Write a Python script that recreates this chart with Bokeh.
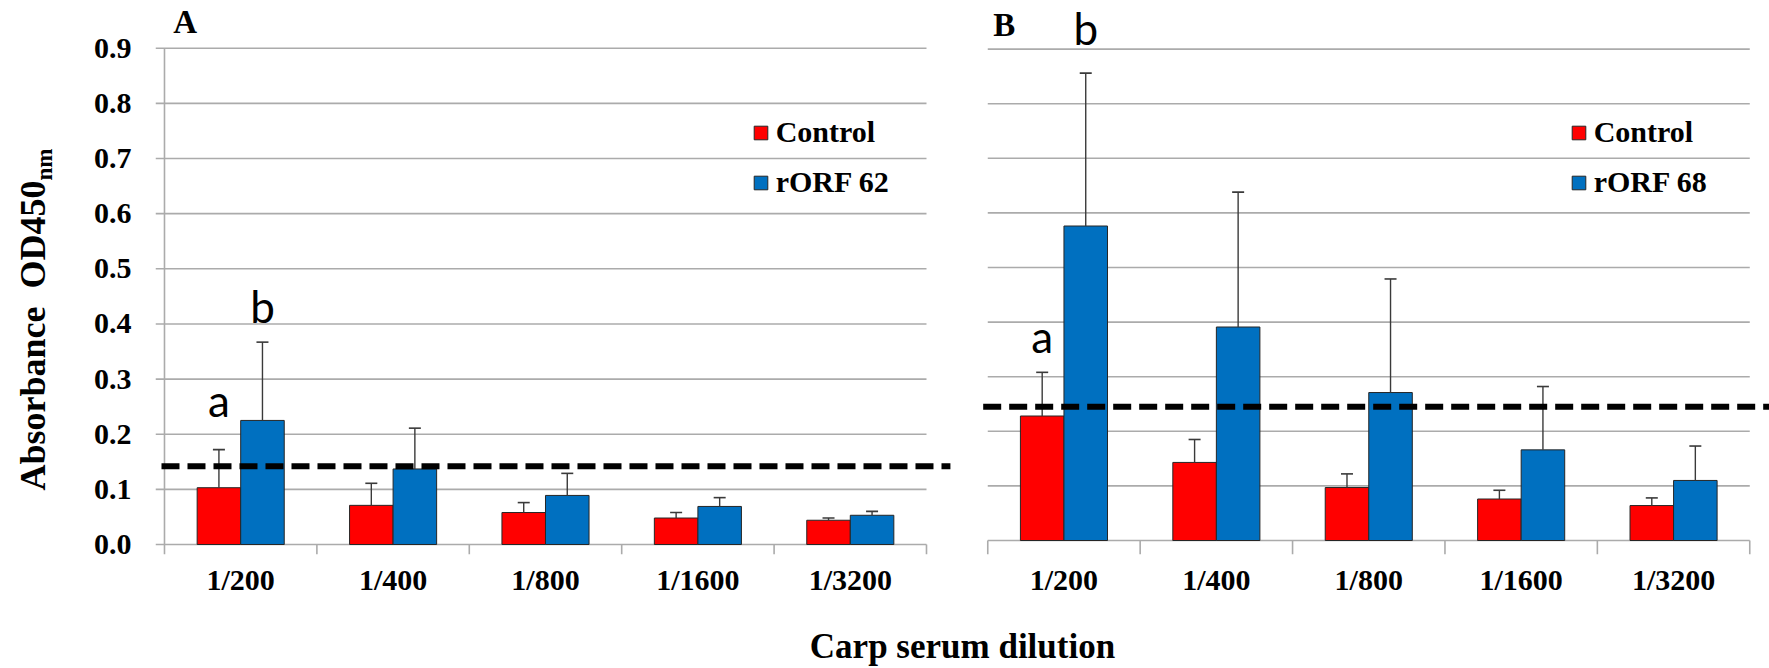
from math import pi

from bokeh.core.properties import value
from bokeh.embed import file_html
from bokeh.layouts import row
from bokeh.models import (ColumnDataSource, FixedTicker, Legend, LegendItem,
                          NumeralTickFormatter, Range1d)
from bokeh.plotting import figure
from bokeh.resources import INLINE

# ---------------------------------------------------------------- data
dilutions = ["1/200", "1/400", "1/800", "1/1600", "1/3200"]
y_ticks = [0.0, 0.1, 0.2, 0.3, 0.4, 0.5, 0.6, 0.7, 0.8, 0.9]

# Panel A: carp immunised with rORF 62
control_a = [0.103, 0.071, 0.058, 0.048, 0.044]
control_a_sd = [0.069, 0.040, 0.018, 0.010, 0.004]
rorf62 = [0.225, 0.137, 0.089, 0.069, 0.053]
rorf62_sd = [0.142, 0.074, 0.040, 0.016, 0.007]
cutoff_a = 0.142

# Panel B: carp immunised with rORF 68
control_b = [0.228, 0.143, 0.097, 0.076, 0.064]
control_b_sd = [0.080, 0.042, 0.025, 0.016, 0.014]
rorf68 = [0.576, 0.391, 0.271, 0.166, 0.110]
rorf68_sd = [0.280, 0.247, 0.208, 0.116, 0.063]
cutoff_b = 0.245

# significance letters at the 1/200 dilution: (letter, series, baseline y)
letters_a = [("a", 0, 0.232), ("b", 1, 0.401)]
letters_b = [("a", 0, 0.3425), ("b", 1, 0.9066)]

# ---------------------------------------------------------------- style
RED = "#FF0000"
BLUE = "#0070C0"
EDGE = "#262626"
GRID = "#ABABAB"
ERR = "#3A3A3A"
SERIF = "Liberation Serif"

H = 668
TOP, BOTTOM = 5, 114     # borders above / below the plotting frame
N = len(dilutions)
BAR_W = 1 / 3.5          # two bars plus a 150 % gap per category
B_SHIFT = 5.402          # panel B starts here on the shared x scale
X_LEFT = -0.059
X_RIGHT = 10.5315
YA = (-0.01814, 0.97752)
YB = (-0.02564, 0.97985)
TITLE_W = 64

# ---------------------------------------------------------------- value axis title strip
# y measured in pixels from the bottom of the page
t = figure(width=TITLE_W, height=H, output_backend="svg", toolbar_location=None,
           x_range=Range1d(0, TITLE_W), y_range=Range1d(BOTTOM, H - TOP),
           x_axis_location=None, y_axis_location=None,
           min_border_left=0, min_border_right=0, min_border_top=TOP,
           min_border_bottom=BOTTOM)
t.outline_line_color = None
t.xgrid.visible = False
t.ygrid.visible = False
t.text(x=[45], y=[H - 490], text=["Absorbance\u00a0\u00a0OD450"], angle=pi / 2,
       text_font=value(SERIF), text_font_style="bold", text_font_size="36px",
       text_align="left", text_baseline="alphabetic", text_color="black", x_offset=-13)
t.text(x=[52], y=[H - 180], text=["nm"], angle=pi / 2,
       text_font=value(SERIF), text_font_style="bold", text_font_size="23px",
       text_align="left", text_baseline="alphabetic", text_color="black", x_offset=-8)

# ---------------------------------------------------------------- main chart
p = figure(width=1769 - TITLE_W, height=H, output_backend="svg", toolbar_location=None,
           x_range=Range1d(X_LEFT, X_RIGHT), y_range=Range1d(*YA),
           min_border_left=155 - TITLE_W, min_border_right=0, min_border_top=TOP,
           min_border_bottom=BOTTOM)
p.extra_y_ranges = {"b": Range1d(*YB)}
p.outline_line_color = None
p.background_fill_color = "white"
p.xgrid.visible = False
p.ygrid.visible = False

yax = p.yaxis[0]
yax.ticker = FixedTicker(ticks=y_ticks)
yax.formatter = NumeralTickFormatter(format="0.0")
yax.axis_line_color = None
yax.major_tick_line_color = None
yax.minor_tick_line_color = None
yax.major_label_standoff = 18
yax.major_label_text_font = SERIF
yax.major_label_text_font_style = "bold"
yax.major_label_text_font_size = "30px"
yax.major_label_text_color = "black"

centers_a = [i + 0.5 for i in range(N)]
centers_b = [B_SHIFT + i + 0.5 for i in range(N)]
xax = p.xaxis[0]
xax.ticker = FixedTicker(ticks=centers_a + centers_b)
xax.major_label_overrides = {c: d for c, d in zip(centers_a + centers_b, dilutions * 2)}
xax.axis_line_color = None
xax.major_tick_line_color = None
xax.minor_tick_line_color = None
xax.major_label_standoff = 2
xax.major_label_text_font = SERIF
xax.major_label_text_font_style = "bold"
xax.major_label_text_font_size = "30px"
xax.major_label_text_color = "black"
xax.axis_label = "Carp serum dilution"
xax.axis_label_standoff = 28
xax.axis_label_text_font = SERIF
xax.axis_label_text_font_style = "bold"
xax.axis_label_text_font_size = "35px"
xax.axis_label_text_color = "black"

# gridlines, value axis line and category separators
grid_a = ColumnDataSource(dict(x0=[X_LEFT] * len(y_ticks), x1=[float(N)] * len(y_ticks), y=y_ticks))
p.segment(x0="x0", y0="y", x1="x1", y1="y", source=grid_a, line_color=GRID, line_width=1.6)
grid_b = ColumnDataSource(dict(x0=[B_SHIFT] * len(y_ticks), x1=[B_SHIFT + N] * len(y_ticks), y=y_ticks))
p.segment(x0="x0", y0="y", x1="x1", y1="y", source=grid_b, line_color=GRID, line_width=1.6,
          y_range_name="b")
p.segment(x0=[0], y0=[YA[0]], x1=[0], y1=[y_ticks[-1]], line_color=GRID, line_width=1.6)
p.segment(x0=list(range(1, N + 1)), y0=[0] * N, x1=list(range(1, N + 1)), y1=[YA[0]] * N,
          line_color=GRID, line_width=1.6)
sep_b = [B_SHIFT + k for k in range(N + 1)]
p.segment(x0=sep_b, y0=[0] * (N + 1), x1=sep_b, y1=[YB[0]] * (N + 1),
          line_color=GRID, line_width=1.6, y_range_name="b")


def panel(centers, ctrl, ctrl_sd, trt, trt_sd, range_name):
    kw = {} if range_name is None else {"y_range_name": range_name}
    xs_c = [c - BAR_W / 2 for c in centers]
    xs_t = [c + BAR_W / 2 for c in centers]
    rc = p.vbar(x=xs_c, top=ctrl, bottom=0, width=BAR_W, fill_color=RED,
                line_color=EDGE, line_width=1, **kw)
    rt = p.vbar(x=xs_t, top=trt, bottom=0, width=BAR_W, fill_color=BLUE,
                line_color=EDGE, line_width=1, **kw)
    for xs, vals, sds in ((xs_c, ctrl, ctrl_sd), (xs_t, trt, trt_sd)):
        tops = [v + s for v, s in zip(vals, sds)]
        p.segment(x0=xs, y0=vals, x1=xs, y1=tops, line_color=ERR, line_width=1.4, **kw)
        p.scatter(x=xs, y=tops, marker="dash", size=12, line_color=ERR, line_width=1.6, **kw)
    return rc, rt, xs_c, xs_t


ra_c, ra_t, xa_c, xa_t = panel(centers_a, control_a, control_a_sd, rorf62, rorf62_sd, None)
rb_c, rb_t, xb_c, xb_t = panel(centers_b, control_b, control_b_sd, rorf68, rorf68_sd, "b")

# positivity cut-off lines
p.line(x=[-0.0197, 5.157], y=[cutoff_a, cutoff_a], line_color="black", line_width=6,
       line_dash="18 8")
p.line(x=[5.372, X_RIGHT], y=[cutoff_b, cutoff_b], line_color="black", line_width=6,
       line_dash="18 8", y_range_name="b")

# significance letters
for letters, xc, xt, rn in ((letters_a, xa_c, xa_t, None), (letters_b, xb_c, xb_t, "b")):
    kw = {} if rn is None else {"y_range_name": rn}
    xs = [(xc if s == 0 else xt)[0] for _, s, _ in letters]
    p.text(x=xs, y=[y for _, _, y in letters], text=[s for s, _, _ in letters],
           text_font=value("Lato"), text_font_size="44px", text_align="center",
           text_baseline="alphabetic", text_color="black", y_offset=-17, **kw)

# panel letters
p.text(x=[0.057], y=[0.925], text=["A"], text_font=value(SERIF), text_font_style="bold",
       text_font_size="33px", text_align="left", text_baseline="alphabetic", text_color="black",
       y_offset=-12)
p.text(x=[5.4377], y=[0.9218], text=["B"], text_font=value(SERIF), text_font_style="bold",
       text_font_size="33px", text_align="left", text_baseline="alphabetic", text_color="black",
       y_offset=-12, y_range_name="b")


def legend(rc, rt, name, loc):
    lg = Legend(items=[LegendItem(label="Control", renderers=[rc]),
                       LegendItem(label=name, renderers=[rt])],
                location=loc, orientation="vertical", padding=0, margin=0, spacing=16,
                glyph_width=17, glyph_height=17, label_standoff=7,
                label_text_font=SERIF, label_text_font_style="bold",
                label_text_font_size="30px", label_text_color="black",
                border_line_color=None, background_fill_alpha=0)
    p.add_layout(lg)


legend(ra_c, ra_t, "rORF 62", (596.7, 354.7))
legend(rb_c, rb_t, "rORF 68", (1414.7, 354.7))

layout = row(t, p, spacing=0)
open("out.html", "w").write(file_html(layout, INLINE))
